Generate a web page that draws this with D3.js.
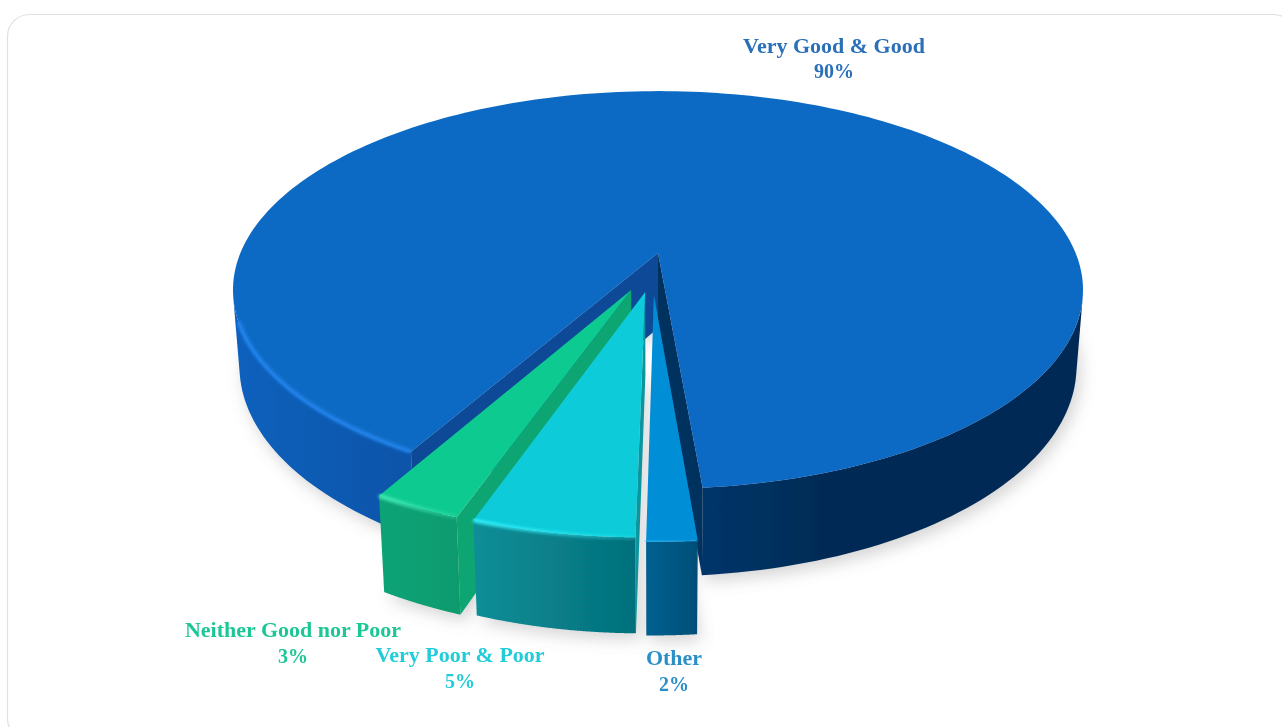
<!DOCTYPE html>
<html>
<head>
<meta charset="utf-8">
<script src="https://cdn.jsdelivr.net/npm/d3@7/dist/d3.min.js"></script>
<style>
  html, body { margin: 0; padding: 0; background: #fff; overflow: hidden; }
  text { font-family: "Liberation Serif", serif; font-weight: bold; font-size: 22px; text-anchor: middle; }
  text.pct { font-size: 20px; }
</style>
</head>
<body>
<svg id="chart" width="1282" height="727"></svg>
<script>
// data, clockwise from the front of the pie
const categories = ['Other', 'Very Poor & Poor', 'Neither Good nor Poor', 'Very Good & Good'];
const shares = [1.6, 5.2, 2.85, 90.35];
const labelTexts = ['2%', '5%', '3%', '90%'];

const svg = d3.select('#chart');
const defs = svg.append('defs');
const deg = Math.PI / 180;

// camera: plane coords (u,v) of a unit pie go to the screen
const cx = 658, cy = 253;
const R = 417.6, K = 192, C = -0.186, D = 0.015;
function project(u, v, z, h) {
  const w = 1 + C * v + D * z;
  return [cx + R * u / w, cy + (K * v + h * z) / w];
}

// how far each slice is pulled out of the pie, its radius and thickness
const placed = {
  'Other': [-0.0095, 0.21, 0.965, 79],
  'Very Poor & Poor': [-0.0295, 0.196, 0.965, 81],
  'Neither Good nor Poor': [-0.062, 0.186, 0.965, 83],
  'Very Good & Good': [0, 0, 1, 76],
};
const look = {
  'Other': { top: '#058fd6', wall: '#055a86', side: ['#05608f', '#054f78'], rim: '#1aa8ee', label: '#2b8fc9' },
  'Very Poor & Poor': { top: '#08cbd9', wall: '#07959f', side: ['#098e97', '#05707c'], rim: '#35eef8', label: '#22cdd8' },
  'Neither Good nor Poor': { top: '#0fca90', wall: '#0ea672', side: ['#0fa377', '#0b9b6e'], rim: '#45efb8', label: '#1fc796' },
  'Very Good & Good': { top: '#0d6bc4', wall: '#0e4a97', side: ['#0c60bc', '#0a54a8', '#06356c', '#042c55'], rim: '#2384ee', label: '#2a6fb8' },
};
const labelPos = {
  'Other': [674, 665, 691],
  'Very Poor & Poor': [460, 662, 688],
  'Neither Good nor Poor': [293, 637, 663],
  'Very Good & Good': [834, 53, 78],
};

const pie = d3.pie().sort(null).startAngle(175 * deg).endAngle(535 * deg);
const slices = pie(shares).map((d, i) => ({ ...d, name: categories[i], pct: labelTexts[i] }));

const line = d3.line();
const point = (s, a, r, z) => {
  const p = placed[s.name];
  const rr = r * p[2];
  return project(p[0] + rr * Math.sin(a), p[1] - rr * Math.cos(a), z, p[3]);
};
const rimPoints = (s, z) => d3.range(0, 241).map(i => {
  const a = s.startAngle + (s.endAngle - s.startAngle) * i / 240;
  return point(s, a, 1, z);
});

// soft blur filters
const blur = (id, amount) => defs.append('filter').attr('id', id)
  .attr('x', '-10%').attr('y', '-10%').attr('width', '120%').attr('height', '130%')
  .append('feGaussianBlur').attr('stdDeviation', amount);
blur('shadow', 8);
blur('soft', 1.5);
blur('scan', 0.55);
blur('scanText', 0.35);

// card
svg.append('rect').attr('x', 7.5).attr('y', 14.5).attr('width', 1288).attr('height', 726).attr('rx', 22)
  .attr('fill', '#fff').attr('stroke', '#e0e0e0').attr('stroke-width', 1.2);

// side gradients run across the screen, in user space
const mainStopX = d3.scaleLinear().domain([240, 820]).range([0, 1]);
slices.forEach((s, i) => {
  const rim = rimPoints(s, 0);
  const stops = look[s.name].side;
  const isMain = s.name === 'Very Good & Good';
  const x0 = isMain ? 240 : d3.min(rim, p => p[0]);
  const x1 = isMain ? 820 : d3.max(rim, p => p[0]);
  const g = defs.append('linearGradient').attr('id', 'side' + i).attr('gradientUnits', 'userSpaceOnUse')
    .attr('x1', x0).attr('x2', x1).attr('y1', 0).attr('y2', 0);
  const at = isMain ? [240, 415, 700, 820].map(mainStopX) : [0, 1];
  stops.forEach((c, k) => g.append('stop').attr('offset', at[k]).attr('stop-color', c));

  // bevel highlight fades to the right on the pulled slices
  const b = defs.append('linearGradient').attr('id', 'bevel' + i).attr('gradientUnits', 'userSpaceOnUse')
    .attr('x1', x0).attr('x2', x1).attr('y1', 0).attr('y2', 0);
  b.append('stop').attr('offset', 0).attr('stop-color', look[s.name].rim);
  b.append('stop').attr('offset', 1).attr('stop-color', look[s.name].rim).attr('stop-opacity', isMain ? 1 : 0.25);
});

const pieGroup = svg.append('g').attr('filter', 'url(#scan)');

// shadow under the whole pie
const shadow = pieGroup.append('g').attr('filter', 'url(#shadow)').attr('fill', '#8f8f8f').attr('opacity', 0.38);
slices.forEach(s => {
  const bottom = rimPoints(s, 1).map(p => [p[0] + 4, p[1] + 6]);
  const apex = point(s, 0, 0, 1);
  shadow.append('path').attr('d', line([apex, ...bottom]) + 'Z');
});

function wallPath(s, a) {
  return [point(s, a, 0, 0), point(s, a, 1, 0), point(s, a, 1, 1), point(s, a, 0, 1)];
}

// stretches of the rim that turn towards the camera, merged into one polygon each
function frontRuns(top, bottom) {
  const runs = [];
  let run = null;
  d3.range(top.length - 1).forEach(k => {
    const front = d3.polygonArea([top[k], top[k + 1], bottom[k + 1], bottom[k]]) > 0;
    if (front) {
      if (!run) { run = [k]; runs.push(run); }
      run[1] = k + 1;
    } else {
      run = null;
    }
  });
  return runs.map(([a, b]) => [...top.slice(a, b + 1), ...bottom.slice(a, b + 1).reverse()]);
}

function drawSlice(s, i) {
  const g = pieGroup.append('g').attr('class', 'slice');
  const c = look[s.name];
  const isMain = s.name === 'Very Good & Good';

  // outer side of the slice
  const top = rimPoints(s, 0), bottom = rimPoints(s, 1);
  frontRuns(top, bottom).forEach(poly => {
    g.append('path').attr('d', line(poly) + 'Z').attr('fill', `url(#side${i})`);
  });

  // cut faces, only those that turn towards the camera
  [s.startAngle, s.endAngle].forEach((a, k) => {
    const quad = wallPath(s, a);
    const facing = d3.polygonArea(quad) * (k === 0 ? 1 : -1);
    if (facing < 0) return;
    const fill = isMain && k === 1 ? '#05305f' : c.wall;
    g.append('path').attr('d', line(quad) + 'Z').attr('fill', fill);
  });

  // top face
  const apex = point(s, 0, 0, 0);
  g.append('path').attr('d', line([apex, ...top]) + 'Z').attr('fill', c.top);

  // bright bevel along the front edge
  const bevel = top.filter(p => {
    if (!isMain) return true;
    return p[1] > 318 && p[0] < 500;
  });
  g.append('path').attr('d', line(bevel)).attr('fill', 'none')
    .attr('stroke', `url(#bevel${i})`).attr('stroke-width', 4).attr('filter', 'url(#soft)');
}

// main body first, then the pulled slices from left to right
const order = [3, 2, 1, 0];
order.forEach(i => drawSlice(slices[i], i));

// labels
slices.forEach(s => {
  const [x, y1, y2] = labelPos[s.name];
  const t = svg.append('g').attr('fill', look[s.name].label).attr('filter', 'url(#scanText)');
  t.append('text').attr('x', x).attr('y', y1).text(s.name);
  t.append('text').attr('class', 'pct').attr('x', x).attr('y', y2).text(s.pct);
});
</script>
</body>
</html>
